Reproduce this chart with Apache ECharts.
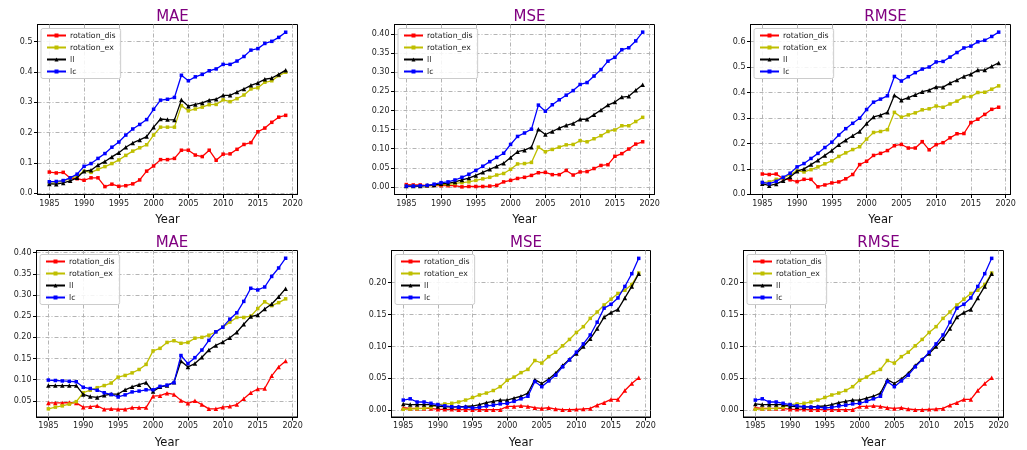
<!DOCTYPE html>
<html>
<head>
<meta charset="utf-8">
<script src="https://cdn.jsdelivr.net/npm/echarts@6/dist/echarts.min.js"></script>
<style>
  html, body { margin: 0; padding: 0; background: #fff; }
  #chart { width: 1027px; height: 450px; }
</style>
</head>
<body>
<div id="chart"></div>
<script>
/* ─── data ─── */
const years = [1985, 1986, 1987, 1988, 1989, 1990, 1991, 1992, 1993, 1994,
  1995, 1996, 1997, 1998, 1999, 2000, 2001, 2002, 2003, 2004,
  2005, 2006, 2007, 2008, 2009, 2010, 2011, 2012, 2013, 2014,
  2015, 2016, 2017, 2018, 2019];
const seriesNames = ["rotation_dis", "rotation_ex", "ll", "lc"];
const xTicks = [1985, 1990, 1995, 2000, 2005, 2010, 2015, 2020];

// top row – MAE
const topMaeDis = [0.070, 0.067, 0.069, 0.050, 0.048, 0.043, 0.051, 0.051, 0.022, 0.030,
  0.023, 0.025, 0.031, 0.044, 0.073, 0.090, 0.111, 0.111, 0.115, 0.142,
  0.142, 0.126, 0.121, 0.142, 0.109, 0.129, 0.130, 0.145, 0.161, 0.167,
  0.203, 0.215, 0.234, 0.251, 0.257];
const topMaeEx = [0.033, 0.035, 0.041, 0.048, 0.057, 0.073, 0.069, 0.079, 0.088, 0.098,
  0.110, 0.125, 0.139, 0.150, 0.160, 0.192, 0.218, 0.218, 0.218, 0.289,
  0.272, 0.278, 0.284, 0.292, 0.293, 0.308, 0.302, 0.312, 0.324, 0.344,
  0.348, 0.366, 0.371, 0.388, 0.399];
const topMaeLl = [0.031, 0.030, 0.034, 0.041, 0.051, 0.073, 0.076, 0.093, 0.105, 0.120,
  0.134, 0.152, 0.166, 0.176, 0.187, 0.218, 0.245, 0.243, 0.242, 0.308,
  0.287, 0.293, 0.298, 0.307, 0.310, 0.323, 0.323, 0.334, 0.344, 0.356,
  0.364, 0.376, 0.380, 0.392, 0.406];
const topMaeLc = [0.038, 0.039, 0.042, 0.051, 0.063, 0.089, 0.098, 0.115, 0.131, 0.152,
  0.169, 0.192, 0.212, 0.227, 0.243, 0.277, 0.307, 0.310, 0.316, 0.389,
  0.371, 0.384, 0.392, 0.404, 0.410, 0.425, 0.425, 0.436, 0.451, 0.472,
  0.477, 0.494, 0.501, 0.514, 0.531];

// top row – MSE
const topMseDis = [0.006, 0.005, 0.005, 0.003, 0.004, 0.003, 0.003, 0.003, 0.000, 0.001,
  0.001, 0.001, 0.002, 0.004, 0.013, 0.017, 0.022, 0.025, 0.030, 0.037,
  0.038, 0.032, 0.032, 0.043, 0.031, 0.039, 0.040, 0.048, 0.056, 0.058,
  0.080, 0.087, 0.099, 0.112, 0.118];
const topMseEx = [0.002, 0.002, 0.002, 0.003, 0.004, 0.006, 0.006, 0.009, 0.011, 0.013,
  0.017, 0.021, 0.025, 0.031, 0.035, 0.046, 0.060, 0.061, 0.064, 0.104,
  0.092, 0.098, 0.104, 0.110, 0.111, 0.121, 0.118, 0.126, 0.134, 0.145,
  0.149, 0.160, 0.160, 0.171, 0.182];
const topMseLl = [0.002, 0.002, 0.002, 0.004, 0.005, 0.008, 0.009, 0.013, 0.018, 0.023,
  0.030, 0.038, 0.046, 0.054, 0.062, 0.077, 0.092, 0.096, 0.104, 0.151,
  0.137, 0.145, 0.154, 0.161, 0.166, 0.177, 0.177, 0.189, 0.201, 0.214,
  0.222, 0.235, 0.237, 0.253, 0.267];
const topMseLc = [0.002, 0.002, 0.003, 0.004, 0.007, 0.011, 0.013, 0.018, 0.025, 0.033,
  0.043, 0.054, 0.066, 0.077, 0.088, 0.111, 0.132, 0.141, 0.151, 0.214,
  0.198, 0.215, 0.228, 0.240, 0.252, 0.268, 0.273, 0.290, 0.307, 0.329,
  0.339, 0.359, 0.364, 0.382, 0.405];

// top row – RMSE
const topRmseDis = [0.080, 0.078, 0.080, 0.061, 0.057, 0.050, 0.059, 0.059, 0.030, 0.037,
  0.045, 0.049, 0.061, 0.078, 0.117, 0.130, 0.153, 0.161, 0.172, 0.191,
  0.196, 0.182, 0.182, 0.207, 0.175, 0.195, 0.203, 0.222, 0.238, 0.239,
  0.282, 0.295, 0.314, 0.334, 0.342];
const topRmseEx = [0.046, 0.049, 0.059, 0.064, 0.078, 0.092, 0.088, 0.097, 0.108, 0.120,
  0.132, 0.149, 0.163, 0.176, 0.187, 0.217, 0.243, 0.247, 0.254, 0.322,
  0.303, 0.312, 0.320, 0.332, 0.336, 0.347, 0.342, 0.355, 0.366, 0.382,
  0.384, 0.400, 0.401, 0.413, 0.426];
const topRmseLl = [0.042, 0.034, 0.041, 0.053, 0.068, 0.091, 0.100, 0.117, 0.134, 0.153,
  0.172, 0.195, 0.213, 0.230, 0.247, 0.278, 0.304, 0.311, 0.322, 0.389,
  0.370, 0.380, 0.391, 0.403, 0.409, 0.422, 0.421, 0.437, 0.449, 0.463,
  0.472, 0.488, 0.488, 0.503, 0.516];
const topRmseLc = [0.047, 0.042, 0.051, 0.067, 0.083, 0.108, 0.121, 0.141, 0.161, 0.184,
  0.205, 0.233, 0.258, 0.279, 0.299, 0.333, 0.362, 0.374, 0.387, 0.463,
  0.445, 0.462, 0.478, 0.492, 0.500, 0.520, 0.522, 0.539, 0.557, 0.575,
  0.582, 0.599, 0.605, 0.620, 0.637];

// bottom row – MAE
const botMaeDis = [0.045, 0.045, 0.045, 0.046, 0.045, 0.035, 0.036, 0.038, 0.030, 0.031,
  0.030, 0.030, 0.034, 0.034, 0.034, 0.061, 0.062, 0.068, 0.065, 0.051,
  0.044, 0.050, 0.041, 0.031, 0.031, 0.035, 0.037, 0.041, 0.055, 0.069,
  0.078, 0.079, 0.109, 0.130, 0.144];
const botMaeEx = [0.031, 0.035, 0.038, 0.042, 0.048, 0.069, 0.075, 0.081, 0.086, 0.092,
  0.106, 0.110, 0.116, 0.124, 0.136, 0.168, 0.174, 0.188, 0.192, 0.186,
  0.188, 0.198, 0.200, 0.205, 0.213, 0.224, 0.236, 0.247, 0.247, 0.250,
  0.268, 0.284, 0.275, 0.282, 0.291];
const botMaeLl = [0.086, 0.086, 0.086, 0.086, 0.086, 0.065, 0.060, 0.058, 0.063, 0.066,
  0.066, 0.076, 0.083, 0.088, 0.093, 0.072, 0.083, 0.086, 0.094, 0.144,
  0.130, 0.138, 0.153, 0.170, 0.181, 0.189, 0.199, 0.212, 0.231, 0.249,
  0.253, 0.267, 0.279, 0.296, 0.315];
const botMaeLc = [0.099, 0.098, 0.097, 0.096, 0.095, 0.082, 0.079, 0.075, 0.069, 0.065,
  0.059, 0.064, 0.071, 0.073, 0.076, 0.076, 0.084, 0.087, 0.093, 0.157,
  0.138, 0.152, 0.170, 0.193, 0.213, 0.224, 0.243, 0.258, 0.285, 0.316,
  0.312, 0.319, 0.344, 0.364, 0.387];

// bottom row – MSE (the RMSE panel shows the same curves)
const botMseDis = [0.004, 0.003, 0.003, 0.003, 0.003, 0.0015, 0.0015, 0.0015, 0.001, 0.001,
  0.001, 0.001, 0.001, 0.001, 0.001, 0.006, 0.006, 0.007, 0.006, 0.004,
  0.003, 0.004, 0.002, 0.001, 0.001, 0.0015, 0.002, 0.003, 0.008, 0.012,
  0.017, 0.017, 0.031, 0.042, 0.051];
const botMseEx = [0.0015, 0.002, 0.0025, 0.003, 0.0045, 0.009, 0.010, 0.011, 0.013, 0.016,
  0.020, 0.024, 0.027, 0.031, 0.037, 0.047, 0.052, 0.059, 0.064, 0.078,
  0.074, 0.084, 0.091, 0.101, 0.111, 0.122, 0.131, 0.144, 0.154, 0.165,
  0.174, 0.183, 0.188, 0.197, 0.215];
const botMseLl = [0.010, 0.009, 0.009, 0.009, 0.009, 0.006, 0.0056, 0.005, 0.0056, 0.006,
  0.0067, 0.009, 0.012, 0.014, 0.016, 0.016, 0.019, 0.022, 0.027, 0.048,
  0.042, 0.049, 0.058, 0.070, 0.080, 0.089, 0.100, 0.112, 0.128, 0.146,
  0.153, 0.158, 0.176, 0.194, 0.214];
const botMseLc = [0.016, 0.018, 0.013, 0.013, 0.011, 0.009, 0.007, 0.0056, 0.005, 0.005,
  0.0036, 0.0046, 0.0067, 0.008, 0.010, 0.011, 0.014, 0.018, 0.022, 0.045,
  0.037, 0.046, 0.055, 0.068, 0.079, 0.091, 0.104, 0.118, 0.138, 0.160,
  0.166, 0.176, 0.194, 0.214, 0.238];

/* ─── styling ─── */
const FONT = "DejaVu Sans";
const COLORS = ["#ff0000", "#bfbf00", "#000000", "#0000ff"];
const TOP_MARKS = ["rect", "rect", "triangle", "rect"];
const BOT_MARKS = ["triangle", "rect", "triangle", "rect"];
const GRID_LINE = { color: "#b4b4b4", width: 1, type: [4, 2, 1, 2] };

// box = [left, top, width, height]; half-pixel edges keep the frame crisp
const panels = [
  { title: "MAE", box: [37.5, 24.5, 260, 170], y: [-0.004, 0.5565], ticks: [0, 0.1, 0.2, 0.3, 0.4, 0.5], dec: 1,
    data: [topMaeDis, topMaeEx, topMaeLl, topMaeLc], marks: TOP_MARKS },
  { title: "MSE", box: [394.5, 24.5, 260, 170], y: [-0.02, 0.425], ticks: [0, 0.05, 0.1, 0.15, 0.2, 0.25, 0.3, 0.35, 0.4], dec: 2,
    data: [topMseDis, topMseEx, topMseLl, topMseLc], marks: TOP_MARKS },
  { title: "RMSE", box: [750.5, 24.5, 260, 170], y: [-0.0005, 0.667], ticks: [0, 0.1, 0.2, 0.3, 0.4, 0.5, 0.6], dec: 1,
    data: [topRmseDis, topRmseEx, topRmseLl, topRmseLc], marks: TOP_MARKS },
  { title: "MAE", box: [36.5, 250.5, 261, 170], y: [0.0117, 0.4053], ticks: [0.05, 0.1, 0.15, 0.2, 0.25, 0.3, 0.35, 0.4], dec: 2,
    data: [botMaeDis, botMaeEx, botMaeLl, botMaeLc], marks: BOT_MARKS },
  { title: "MSE", box: [391.5, 250.5, 259, 170], y: [-0.0105, 0.2503], ticks: [0, 0.05, 0.1, 0.15, 0.2], dec: 2,
    data: [botMseDis, botMseEx, botMseLl, botMseLc], marks: BOT_MARKS },
  { title: "RMSE", box: [743.5, 250.5, 260, 170], y: [-0.0105, 0.2503], ticks: [0, 0.05, 0.1, 0.15, 0.2], dec: 2,
    data: [botMseDis, botMseEx, botMseLl, botMseLc], marks: BOT_MARKS },
];

const option = {
  animation: false,
  backgroundColor: "#fff",
  textStyle: { fontFamily: FONT },
  title: [], grid: [], xAxis: [], yAxis: [], legend: [], series: [],
};

panels.forEach((p, i) => {
  const [left, top, width, height] = p.box;
  option.title.push({
    text: p.title,
    left: left + width / 2,
    top: top - 20,
    textAlign: "center",
    textStyle: { color: "#800080", fontSize: 15, fontWeight: "normal", fontFamily: FONT },
  });
  option.grid.push({
    left, top, width, height,
    show: true, borderColor: "#000", borderWidth: 1, backgroundColor: "transparent",
  });
  option.xAxis.push({
    type: "value", gridIndex: i, min: 1983.3, max: 2020.7,
    name: "Year", nameLocation: "middle", nameGap: 20,
    nameTextStyle: { fontSize: 11.5, color: "#111", fontFamily: FONT },
    axisLine: { show: true, onZero: false, lineStyle: { color: "#000", width: 1 } },
    axisTick: { show: true, inside: false, length: 3.5, customValues: xTicks, lineStyle: { color: "#000" } },
    axisLabel: { customValues: xTicks, margin: 5, fontSize: 8, color: "#222", fontFamily: FONT,
      formatter: (v) => String(Math.round(v)) },
    splitLine: { show: true, lineStyle: GRID_LINE },
  });
  option.yAxis.push({
    type: "value", gridIndex: i, min: p.y[0], max: p.y[1],
    axisLine: { show: true, onZero: false, lineStyle: { color: "#000", width: 1 } },
    axisTick: { show: true, inside: false, length: 3.5, customValues: p.ticks, lineStyle: { color: "#000" } },
    axisLabel: { customValues: p.ticks, margin: 5, fontSize: 8, color: "#222", fontFamily: FONT,
      formatter: (v) => v.toFixed(p.dec) },
    splitLine: { show: true, lineStyle: GRID_LINE },
  });
  option.legend.push({
    data: seriesNames,
    orient: "vertical",
    left: left + 3.5, top: top + 4,
    itemWidth: 19, itemHeight: 5, itemGap: 4,
    padding: [3, 5, 3, 5],
    backgroundColor: "rgba(255,255,255,0.85)",
    borderColor: "#cccccc", borderWidth: 1, borderRadius: 2,
    textStyle: { fontSize: 7.8, color: "#222", fontFamily: FONT, padding: [0, 0, 0, -1] },
    selectedMode: false,
  });
  p.data.forEach((vals, k) => {
    option.series.push({
      type: "line",
      name: seriesNames[k],
      xAxisIndex: i, yAxisIndex: i,
      data: years.map((yr, j) => [yr, vals[j]]),
      color: COLORS[k],
      symbol: p.marks[k],
      symbolSize: p.marks[k] === "triangle" ? 4.5 : 3.5,
      showSymbol: true,
      lineStyle: { width: 1.3, color: COLORS[k] },
      itemStyle: { color: COLORS[k] },
      z: 2 + k,
    });
  });
});

const chart = echarts.init(document.getElementById("chart"), null, { renderer: "canvas" });
chart.setOption(option);
</script>
</body>
</html>
